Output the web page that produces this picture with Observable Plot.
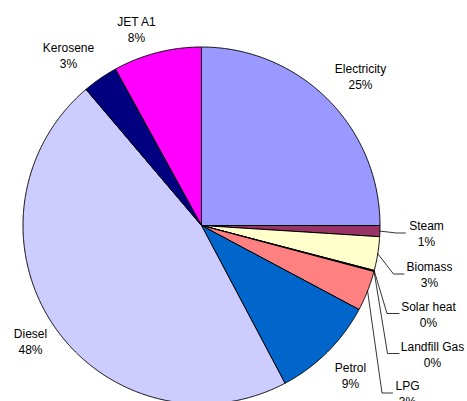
<!DOCTYPE html>
<html><head><meta charset="utf-8">
<script src="https://cdn.jsdelivr.net/npm/d3@7"></script>
<script src="https://cdn.jsdelivr.net/npm/@observablehq/plot@0.6"></script>
<style>body{margin:0;background:#fff}</style>
</head><body><div id="chart"></div>
<script>
// ---- data ----
const categories = ["Electricity","Steam","Biomass","Solar heat","Landfill Gas","LPG","Petrol","Diesel","Kerosene","JET A1"];
const values = [25.0, 1.0, 3.05, 0.05, 0.05, 3.65, 9.45, 46.55, 3.2, 8.0];
const pctLabels = ["25%","1%","3%","0%","0%","3%","9%","48%","3%","8%"];
const colors = ["#9999FF","#993366","#FFFFCC","#CCFFFF","#660066","#FF8080","#0066CC","#CCCCFF","#000080","#FF00FF"];

// ---- layout ----
const W = 467, H = 401, cx = 201, cy = 225, R = 178.5;
const labelX = [360, 426, 429, 428, 432, 407, 350, 30, 68, 136];
const labelY = [75, 232, 273, 313, 353, 392, 374, 340, 54, 28];
// leader lines: slice index, elbow point, end x (end y = label y)
const leaderIdx = [1, 2, 3, 4, 5];
const leaderElbowX = [396, 393, 386.5, 387, 381.5];
const leaderElbowY = [232.5, 273.5, 313, 353, 392.5];
const leaderEndX = [405, 403.5, 398.5, 398.5, 392];

const arcs = d3.pie().sort(null).value(d => d)(values);
const pt = (a, r) => ({x: cx + r * Math.sin(a), y: cy - r * Math.cos(a)});

const marks = [];
arcs.forEach((a, i) => {
  const n = Math.max(2, Math.ceil((a.endAngle - a.startAngle) / 0.005));
  const pts = [{x: cx, y: cy}];
  for (let k = 0; k <= n; k++) pts.push(pt(a.startAngle + (a.endAngle - a.startAngle) * k / n, R));
  pts.push({x: cx, y: cy});
  marks.push(Plot.line(pts, {x: "x", y: "y", fill: colors[i], stroke: "#000", strokeWidth: 1, curve: "linear", strokeLinejoin: "miter"}));
});

leaderIdx.forEach((si, j) => {
  const a = arcs[si];
  const m = (a.startAngle + a.endAngle) / 2;
  const pts = [pt(m, R), {x: leaderElbowX[j], y: leaderElbowY[j]}, {x: leaderEndX[j], y: leaderElbowY[j]}];
  marks.push(Plot.line(pts, {x: "x", y: "y", stroke: "#000", strokeWidth: 0.8}));
});

const labelData = categories.map((c, i) => ({x: labelX[i], y: labelY[i], t: c + "\n" + pctLabels[i]}));
marks.push(Plot.text(labelData, {x: "x", y: "y", text: "t", fontSize: 12, lineHeight: 1.33, textAnchor: "middle", fill: "#000",
  fontFamily: "'Liberation Sans', Arial, sans-serif"}));

const chart = Plot.plot({
  width: W, height: H, margin: 0,
  x: {domain: [0, W], range: [0, W], axis: null},
  y: {domain: [0, H], range: [0, H], axis: null},
  style: {background: "#fff"},
  marks
});
document.getElementById("chart").appendChild(chart);
</script>
</body></html>
